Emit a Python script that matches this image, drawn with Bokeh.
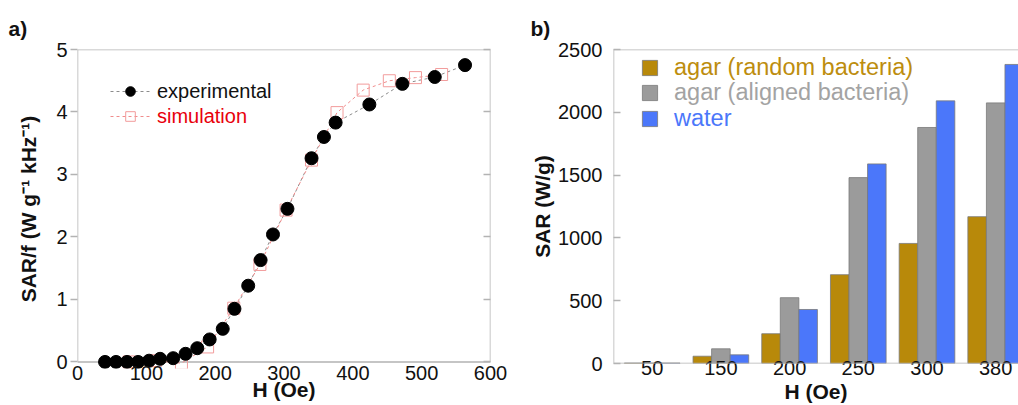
from bokeh.plotting import figure
from bokeh.layouts import row
from bokeh.models import (Range1d, FixedTicker, LinearAxis, Legend, LegendItem,
                          BoxAnnotation, ColumnDataSource)
from bokeh.transform import dodge
from bokeh.embed import file_html
from bokeh.resources import INLINE

FONT = "Liberation Sans"
GRAY = "#b3b3b3"

# ---------------- panel a data ----------------
exp_h = [40, 56, 72, 88, 104, 120, 139, 157, 174, 192, 211, 228, 248, 266, 284, 305,
         340, 358, 375, 424, 472, 519, 563]
exp_sar = [0.0, 0.0, 0.0, 0.0, 0.02, 0.05, 0.06, 0.13, 0.22, 0.36, 0.53, 0.85, 1.22, 1.63,
           2.04, 2.45, 3.26, 3.60, 3.83, 4.12, 4.45, 4.56, 4.75]
sim_h = [75, 113, 151, 189, 227, 265, 303, 340, 377, 415, 453, 491, 529]
sim_sar = [0.0, 0.02, -0.02, 0.24, 0.86, 1.56, 2.43, 3.23, 3.99, 4.35, 4.50, 4.55, 4.60]
a_xticks = [0, 100, 200, 300, 400, 500, 600]
a_yticks = [0, 1, 2, 3, 4, 5]

# ---------------- panel b data ----------------
h_labels = ["50", "150", "200", "250", "300", "380"]
sar_random = [4, 58, 237, 707, 956, 1169]
sar_aligned = [4, 117, 524, 1480, 1879, 2075]
sar_water = [4, 69, 430, 1589, 2091, 2381]
b_yticks = [0, 500, 1000, 1500, 2000, 2500]


def style_title(p, text, offset):
    p.title.text = text
    p.title.align = "left"
    p.title.offset = offset
    p.title.standoff = 19
    p.title.text_font = FONT
    p.title.text_font_size = "21px"
    p.title.text_font_style = "bold"
    p.title.text_color = "#111111"


def style_xlabel(ax, standoff):
    ax.axis_label = "H (Oe)"
    ax.axis_label_text_font = FONT
    ax.axis_label_text_font_style = "bold"
    ax.axis_label_text_font_size = "21px"
    ax.axis_label_text_color = "#111111"
    ax.axis_label_standoff = standoff


# =============== panel a ===============
pa = figure(frame_width=413, frame_height=319, min_border_left=77, min_border_right=30,
            min_border_top=49, min_border_bottom=37,
            x_range=Range1d(0, 600), y_range=Range1d(-0.105, 5),
            output_backend="svg", toolbar_location=None)
pa.outline_line_color = None
pa.grid.visible = False
style_title(pa, "a)", -69)

l_exp = pa.line(exp_h, exp_sar, line_color="#8c8c8c", line_dash="3 3", line_width=1)
l_sim = pa.line(sim_h, sim_sar, line_color="#f08c8c", line_dash="3 3", line_width=1)
s_sim = pa.scatter(sim_h, sim_sar, marker="square", size=12, fill_color=None,
                   line_color="#f29c9c", line_width=1)
s_exp = pa.scatter(exp_h, exp_sar, marker="circle", size=13, fill_color="black",
                   line_color="black")

pa.add_layout(BoxAnnotation(left=0, right=600, bottom=0, top=5, fill_alpha=0,
                            line_color=GRAY, line_alpha=1, line_width=1.5, level="underlay"))

xa = pa.xaxis[0]
xa.ticker = FixedTicker(ticks=a_xticks)
xa.axis_line_color = None
xa.major_tick_in = 0
xa.major_tick_out = 0
xa.minor_tick_line_color = None
xa.major_label_standoff = -3
xa.major_label_text_font = FONT
xa.major_label_text_font_size = "20px"
xa.major_label_text_color = "#111111"
style_xlabel(xa, -5)

ya = pa.yaxis[0]
ya.ticker = FixedTicker(ticks=a_yticks)
ya.axis_line_color = None
ya.major_tick_in = 0
ya.major_tick_out = 7
ya.major_tick_line_color = GRAY
ya.major_tick_line_width = 1.5
ya.minor_tick_line_color = None
ya.major_label_standoff = 3
ya.major_label_text_font = FONT
ya.major_label_text_font_size = "20px"
ya.major_label_text_color = "#111111"
ya.axis_label = "SAR/f (W g\u207b\u00b9 kHz\u207b\u00b9)"
ya.axis_label_text_font = FONT
ya.axis_label_text_font_style = "bold"
ya.axis_label_text_font_size = "21px"
ya.axis_label_text_color = "#111111"
ya.axis_label_standoff = 13

ra = LinearAxis(ticker=FixedTicker(ticks=a_yticks), major_tick_in=7, major_tick_out=0,
                major_tick_line_color=GRAY, major_tick_line_width=1.5,
                axis_line_color=None, minor_tick_line_color=None,
                major_label_text_color=None, major_label_text_font_size="8px",
                major_label_standoff=0)
pa.add_layout(ra, "right")

leg_exp = Legend(items=[LegendItem(label="experimental", renderers=[l_exp, s_exp])],
                 location=(33, 265))
leg_sim = Legend(items=[LegendItem(label="simulation", renderers=[l_sim, s_sim])],
                 location=(33, 240))
for lg, col in ((leg_exp, "#111111"), (leg_sim, "#e8000b")):
    lg.padding = 0
    lg.margin = 0
    lg.spacing = 0
    lg.border_line_color = None
    lg.background_fill_alpha = 0
    lg.glyph_width = 40
    lg.glyph_height = 24
    lg.label_height = 24
    lg.label_standoff = 7
    lg.label_text_font = FONT
    lg.label_text_font_size = "20px"
    lg.label_text_color = col
    pa.add_layout(lg)

# =============== panel b ===============
x_start = -0.563
pb = figure(frame_width=405, frame_height=314, min_border_left=93, min_border_right=0,
            min_border_top=45, min_border_bottom=46,
            x_range=Range1d(x_start, 5.332), y_range=Range1d(0, 2500),
            output_backend="svg", toolbar_location=None)
pb.outline_line_color = None
pb.grid.visible = False
style_title(pb, "b)", -83)

src = ColumnDataSource(dict(x=list(range(len(h_labels))), random=sar_random,
                            aligned=sar_aligned, water=sar_water))
bw = 0.27
r_rand = pb.vbar(x=dodge("x", -bw, range=pb.x_range), top="random", width=bw, source=src,
                 fill_color="#b8890a", line_color="#7a7a7a", line_width=0.8)
r_alig = pb.vbar(x=dodge("x", 0, range=pb.x_range), top="aligned", width=bw, source=src,
                 fill_color="#9b9b9b", line_color="#7a7a7a", line_width=0.8)
r_wat = pb.vbar(x=dodge("x", bw, range=pb.x_range), top="water", width=bw, source=src,
                fill_color="#4b77fa", line_color="#7a7a7a", line_width=0.8)

pb.add_layout(BoxAnnotation(left=x_start, right=7, bottom=0, top=2500, fill_alpha=0,
                            line_color=GRAY, line_alpha=1, line_width=1.5, level="overlay"))

xb = pb.xaxis[0]
xb.ticker = FixedTicker(ticks=list(range(len(h_labels))))
xb.major_label_overrides = {i: lab for i, lab in enumerate(h_labels)}
xb.axis_line_color = None
xb.major_tick_in = 0
xb.major_tick_out = 0
xb.minor_tick_line_color = None
xb.major_label_standoff = -3
xb.major_label_text_font = FONT
xb.major_label_text_font_size = "20px"
xb.major_label_text_color = "#111111"
style_xlabel(xb, 2)

yb = pb.yaxis[0]
yb.ticker = FixedTicker(ticks=b_yticks)
yb.axis_line_color = None
yb.major_tick_in = 7
yb.major_tick_out = 0
yb.major_tick_line_color = GRAY
yb.major_tick_line_width = 1.5
yb.minor_tick_line_color = None
yb.major_label_standoff = 11
yb.major_label_text_font = FONT
yb.major_label_text_font_size = "20px"
yb.major_label_text_color = "#111111"
yb.axis_label = "SAR (W/g)"
yb.axis_label_text_font = FONT
yb.axis_label_text_font_style = "bold"
yb.axis_label_text_font_size = "21px"
yb.axis_label_text_color = "#111111"
yb.axis_label_standoff = 1

for rend, lab, col, ypos in ((r_rand, "agar (random bacteria)", "#bd8d0e", 282),
                             (r_alig, "agar (aligned bacteria)", "#a3a3a3", 257),
                             (r_wat, "water", "#4b77fa", 231)):
    lg = Legend(items=[LegendItem(label=lab, renderers=[rend])], location=(27, ypos))
    lg.padding = 0
    lg.margin = 0
    lg.spacing = 0
    lg.border_line_color = None
    lg.background_fill_alpha = 0
    lg.glyph_width = 19
    lg.glyph_height = 19
    lg.label_height = 19
    lg.label_standoff = 15
    lg.label_text_font = FONT
    lg.label_text_font_size = "23.5px"
    lg.label_text_color = col
    pb.add_layout(lg)

layout = row(pa, pb)
open("out.html", "w").write(file_html(layout, INLINE))
